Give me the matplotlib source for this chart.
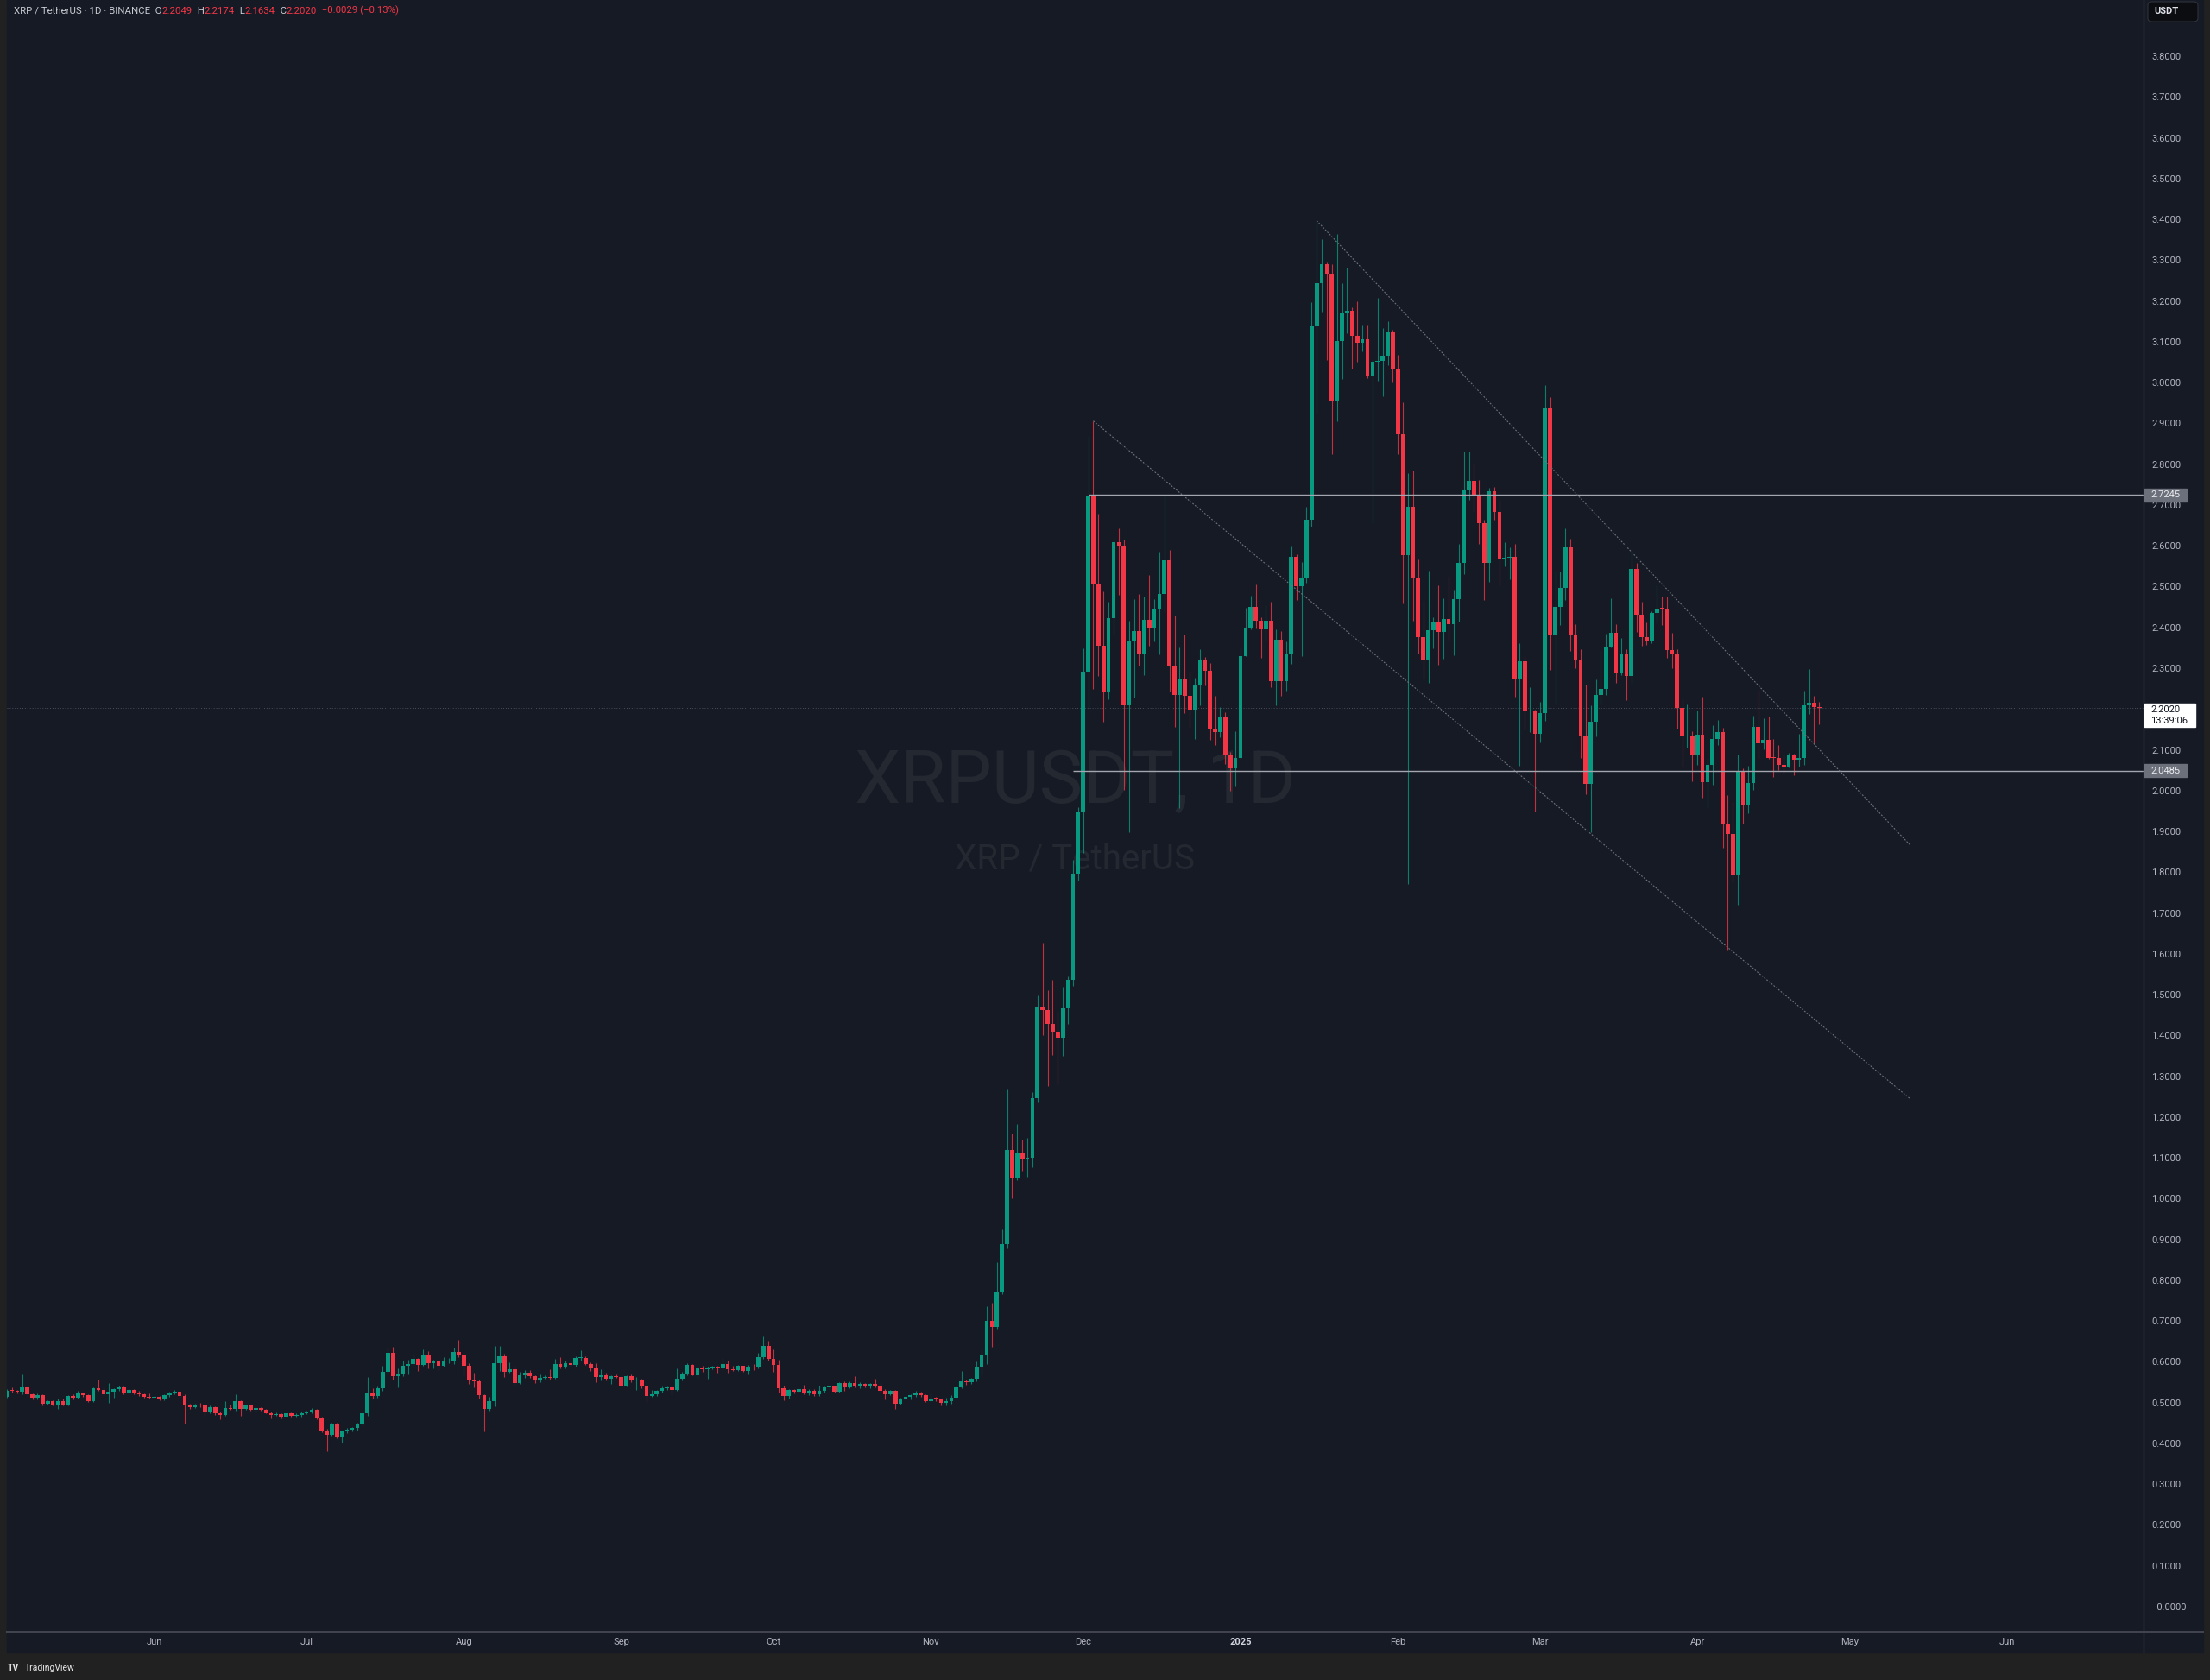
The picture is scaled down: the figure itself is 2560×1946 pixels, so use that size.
import datetime as dt
import numpy as np
import matplotlib
matplotlib.use("Agg")
import matplotlib.pyplot as plt
import matplotlib.dates as mdates
from matplotlib.patches import Rectangle, FancyBboxPatch
from matplotlib.lines import Line2D

plt.rcParams['font.family'] = ['Roboto', 'DejaVu Sans']

# XRPUSDT daily candles, 2024-05-03 .. 2025-04-25
start_day = dt.date(2024, 5, 3)
first_open = 0.515

closes = [
    # May
    0.529, 0.528, 0.526, 0.538, 0.520, 0.512, 0.518, 0.497, 0.503, 0.495, 0.503, 0.495, 0.516, 0.511, 0.523,
    0.518, 0.504, 0.535, 0.531, 0.521, 0.526, 0.533, 0.538, 0.524, 0.531, 0.524, 0.520, 0.514, 0.513,
    # Jun
    0.515, 0.508, 0.518, 0.524, 0.526, 0.517, 0.494, 0.488, 0.494, 0.493, 0.476, 0.489, 0.473, 0.470, 0.487,
    0.485, 0.503, 0.485, 0.492, 0.483, 0.486, 0.482, 0.475, 0.469, 0.472, 0.465, 0.473, 0.468, 0.470, 0.475,
    # Jul
    0.477, 0.482, 0.463, 0.430, 0.420, 0.447, 0.416, 0.429, 0.434, 0.437, 0.447, 0.473, 0.523, 0.516, 0.535,
    0.575, 0.623, 0.565, 0.570, 0.591, 0.595, 0.607, 0.593, 0.616, 0.596, 0.602, 0.591, 0.600, 0.602, 0.625, 0.618,
    # Aug
    0.591, 0.556, 0.552, 0.518, 0.484, 0.504, 0.596, 0.614, 0.576, 0.582, 0.548, 0.566, 0.573, 0.564, 0.555,
    0.561, 0.563, 0.561, 0.595, 0.589, 0.597, 0.593, 0.609, 0.610, 0.595, 0.584, 0.563, 0.567, 0.558, 0.565, 0.563,
    # Sep
    0.542, 0.565, 0.554, 0.556, 0.540, 0.516, 0.521, 0.528, 0.536, 0.538, 0.531, 0.558, 0.570, 0.593, 0.568,
    0.583, 0.582, 0.584, 0.585, 0.584, 0.594, 0.582, 0.580, 0.590, 0.578, 0.588, 0.587, 0.612, 0.639, 0.607,
    # Oct
    0.593, 0.535, 0.517, 0.531, 0.526, 0.533, 0.524, 0.529, 0.520, 0.528, 0.537, 0.539, 0.527, 0.547, 0.537,
    0.547, 0.540, 0.545, 0.540, 0.546, 0.540, 0.529, 0.521, 0.529, 0.497, 0.510, 0.515, 0.518, 0.525, 0.518, 0.504,
    # Nov
    0.510, 0.509, 0.500, 0.504, 0.513, 0.538, 0.553, 0.551, 0.558, 0.587, 0.618, 0.701, 0.686, 0.770, 0.889,
    1.119, 1.050, 1.112, 1.097, 1.101, 1.246, 1.469, 1.463, 1.428, 1.410, 1.394, 1.466, 1.537, 1.797, 1.948,
    # Dec
    2.292, 2.721, 2.507, 2.354, 2.241, 2.422, 2.608, 2.598, 2.209, 2.368, 2.390, 2.336, 2.419, 2.397, 2.443,
    2.482, 2.564, 2.307, 2.235, 2.275, 2.233, 2.199, 2.258, 2.321, 2.294, 2.152, 2.143, 2.181, 2.089, 2.054, 2.079,
    # Jan
    2.330, 2.398, 2.450, 2.416, 2.396, 2.416, 2.268, 2.369, 2.268, 2.337, 2.572, 2.501, 2.520, 2.663, 3.139,
    3.243, 3.290, 3.266, 2.955, 3.101, 3.171, 3.176, 3.115, 3.098, 3.106, 3.018, 3.052, 3.054, 3.066, 3.124, 3.033,
    # Feb
    2.874, 2.577, 2.696, 2.523, 2.377, 2.320, 2.394, 2.415, 2.389, 2.421, 2.408, 2.469, 2.558, 2.736,
    2.759, 2.724, 2.655, 2.559, 2.733, 2.683, 2.569, 2.571, 2.573, 2.275, 2.318, 2.195, 2.197, 2.140,
    # Mar
    2.189, 2.936, 2.381, 2.450, 2.496, 2.596, 2.381, 2.322, 2.134, 2.017, 2.168, 2.235, 2.249, 2.353, 2.387,
    2.289, 2.335, 2.280, 2.543, 2.431, 2.377, 2.367, 2.435, 2.447, 2.445, 2.345, 2.337, 2.203, 2.132, 2.135, 2.086,
    # Apr
    2.137, 2.021, 2.062, 2.127, 2.143, 1.918, 1.894, 1.792, 2.049, 1.963, 2.019, 2.157, 2.115,
    2.125, 2.081, 2.080, 2.064, 2.058, 2.086, 2.076, 2.081, 2.210, 2.215, 2.2049, 2.2020,
]

highs = [
    # May
    0.533, 0.538, 0.532, 0.570, 0.542, 0.522, 0.522, 0.520, 0.506, 0.506, 0.510, 0.510, 0.519, 0.520, 0.528,
    0.525, 0.521, 0.537, 0.556, 0.537, 0.547, 0.536, 0.541, 0.540, 0.535, 0.533, 0.528, 0.522, 0.522,
    # Jun
    0.519, 0.517, 0.521, 0.527, 0.531, 0.527, 0.520, 0.497, 0.497, 0.499, 0.495, 0.494, 0.491, 0.478, 0.503,
    0.496, 0.520, 0.505, 0.495, 0.495, 0.489, 0.488, 0.485, 0.478, 0.476, 0.475, 0.476, 0.476, 0.475, 0.478,
    # Jul
    0.481, 0.486, 0.485, 0.466, 0.435, 0.450, 0.450, 0.432, 0.437, 0.441, 0.451, 0.476, 0.563, 0.535, 0.540,
    0.591, 0.636, 0.636, 0.584, 0.603, 0.605, 0.619, 0.610, 0.630, 0.626, 0.605, 0.605, 0.612, 0.610, 0.635, 0.654,
    # Aug
    0.622, 0.596, 0.573, 0.556, 0.520, 0.515, 0.640, 0.640, 0.621, 0.598, 0.591, 0.575, 0.579, 0.579, 0.568,
    0.570, 0.568, 0.582, 0.607, 0.611, 0.603, 0.603, 0.614, 0.628, 0.613, 0.598, 0.597, 0.582, 0.573, 0.568, 0.570,
    # Sep
    0.566, 0.568, 0.570, 0.563, 0.558, 0.542, 0.531, 0.531, 0.540, 0.540, 0.540, 0.585, 0.575, 0.596, 0.595,
    0.589, 0.591, 0.588, 0.591, 0.591, 0.610, 0.603, 0.591, 0.593, 0.591, 0.593, 0.595, 0.623, 0.663, 0.651,
    # Oct
    0.630, 0.605, 0.542, 0.534, 0.534, 0.535, 0.544, 0.533, 0.533, 0.542, 0.540, 0.541, 0.540, 0.550, 0.552,
    0.552, 0.565, 0.550, 0.549, 0.548, 0.558, 0.547, 0.533, 0.532, 0.531, 0.513, 0.518, 0.521, 0.528, 0.527, 0.521,
    # Nov
    0.522, 0.514, 0.510, 0.511, 0.518, 0.543, 0.577, 0.556, 0.560, 0.601, 0.630, 0.736, 0.744, 0.844, 0.925,
    1.268, 1.159, 1.183, 1.144, 1.149, 1.262, 1.499, 1.627, 1.511, 1.537, 1.457, 1.519, 1.545, 1.830, 1.959,
    # Dec
    2.349, 2.870, 2.906, 2.678, 2.489, 2.462, 2.617, 2.643, 2.615, 2.416, 2.469, 2.481, 2.475, 2.528, 2.469,
    2.585, 2.724, 2.589, 2.429, 2.351, 2.383, 2.292, 2.277, 2.346, 2.328, 2.313, 2.233, 2.205, 2.193, 2.095, 2.146,
    # Jan
    2.351, 2.449, 2.477, 2.505, 2.425, 2.455, 2.464, 2.396, 2.392, 2.366, 2.599, 2.580, 2.561, 2.696, 3.198,
    3.398, 3.351, 3.295, 3.290, 3.365, 3.243, 3.282, 3.184, 3.200, 3.140, 3.140, 3.058, 3.208, 3.133, 3.150, 3.130,
    # Feb
    3.068, 2.952, 2.779, 2.784, 2.566, 2.466, 2.539, 2.425, 2.504, 2.471, 2.525, 2.493, 2.604, 2.831,
    2.831, 2.802, 2.762, 2.664, 2.743, 2.745, 2.711, 2.608, 2.597, 2.605, 2.362, 2.328, 2.254, 2.199,
    # Mar
    2.217, 2.995, 2.964, 2.537, 2.537, 2.643, 2.618, 2.407, 2.346, 2.260, 2.209, 2.273, 2.345, 2.385, 2.472,
    2.407, 2.375, 2.347, 2.589, 2.559, 2.464, 2.413, 2.440, 2.503, 2.476, 2.476, 2.386, 2.346, 2.224, 2.211, 2.145,
    # Apr
    2.197, 2.231, 2.079, 2.161, 2.173, 2.155, 1.990, 1.972, 2.088, 2.054, 2.061, 2.183, 2.244,
    2.178, 2.181, 2.126, 2.111, 2.088, 2.093, 2.091, 2.139, 2.246, 2.298, 2.232, 2.2174,
]

lows = [
    # May
    0.512, 0.524, 0.522, 0.521, 0.516, 0.508, 0.508, 0.494, 0.495, 0.492, 0.484, 0.492, 0.493, 0.508, 0.509,
    0.515, 0.502, 0.502, 0.528, 0.518, 0.499, 0.513, 0.530, 0.521, 0.521, 0.520, 0.517, 0.511, 0.510,
    # Jun
    0.511, 0.505, 0.506, 0.515, 0.521, 0.514, 0.448, 0.485, 0.486, 0.489, 0.468, 0.473, 0.470, 0.459, 0.468,
    0.482, 0.481, 0.468, 0.482, 0.480, 0.476, 0.480, 0.473, 0.461, 0.467, 0.462, 0.463, 0.465, 0.466, 0.466,
    # Jul
    0.472, 0.474, 0.460, 0.427, 0.380, 0.418, 0.412, 0.401, 0.425, 0.429, 0.432, 0.442, 0.468, 0.510, 0.513,
    0.530, 0.570, 0.556, 0.538, 0.565, 0.570, 0.590, 0.577, 0.590, 0.583, 0.584, 0.580, 0.588, 0.596, 0.594, 0.612,
    # Aug
    0.566, 0.545, 0.538, 0.510, 0.429, 0.480, 0.490, 0.577, 0.563, 0.574, 0.542, 0.545, 0.560, 0.560, 0.548,
    0.551, 0.558, 0.557, 0.558, 0.585, 0.583, 0.589, 0.588, 0.603, 0.592, 0.577, 0.550, 0.554, 0.555, 0.545, 0.560,
    # Sep
    0.539, 0.540, 0.551, 0.531, 0.536, 0.501, 0.514, 0.517, 0.525, 0.531, 0.520, 0.529, 0.554, 0.566, 0.566,
    0.558, 0.575, 0.559, 0.581, 0.574, 0.580, 0.573, 0.577, 0.578, 0.576, 0.570, 0.580, 0.583, 0.608, 0.603,
    # Oct
    0.575, 0.524, 0.505, 0.509, 0.523, 0.524, 0.521, 0.518, 0.517, 0.517, 0.525, 0.531, 0.524, 0.525, 0.529,
    0.535, 0.537, 0.535, 0.538, 0.535, 0.537, 0.527, 0.508, 0.518, 0.484, 0.495, 0.507, 0.508, 0.514, 0.515, 0.501,
    # Nov
    0.501, 0.503, 0.494, 0.492, 0.498, 0.508, 0.535, 0.543, 0.546, 0.553, 0.568, 0.595, 0.636, 0.680, 0.765,
    0.878, 1.001, 1.045, 1.069, 1.053, 1.076, 1.235, 1.400, 1.276, 1.353, 1.281, 1.349, 1.428, 1.521, 1.780,
    # Dec
    1.847, 2.201, 2.250, 2.280, 2.168, 2.224, 2.382, 2.480, 2.001, 1.899, 2.228, 2.307, 2.284, 2.354, 2.366,
    2.333, 2.438, 2.243, 2.156, 1.957, 2.190, 2.157, 2.127, 2.209, 2.258, 2.125, 2.112, 2.131, 2.065, 2.000, 2.010,
    # Jan
    2.076, 2.329, 2.396, 2.398, 2.325, 2.366, 2.254, 2.210, 2.233, 2.245, 2.310, 2.467, 2.329, 2.510, 2.647,
    2.923, 3.174, 3.056, 2.825, 2.906, 3.009, 3.120, 3.034, 3.052, 3.076, 3.011, 2.655, 3.005, 2.966, 3.043, 3.001,
    # Feb
    2.825, 2.458, 1.770, 2.417, 2.337, 2.275, 2.264, 2.349, 2.309, 2.324, 2.370, 2.331, 2.415, 2.530,
    2.712, 2.685, 2.605, 2.468, 2.511, 2.664, 2.504, 2.549, 2.519, 2.231, 2.061, 2.149, 2.144, 1.948,
    # Mar
    2.118, 2.170, 2.296, 2.211, 2.405, 2.468, 2.342, 2.300, 2.081, 1.991, 1.899, 2.132, 2.211, 2.235, 2.351,
    2.265, 2.284, 2.222, 2.263, 2.389, 2.355, 2.357, 2.362, 2.411, 2.405, 2.326, 2.300, 2.152, 2.058, 2.105, 2.023,
    # Apr
    2.062, 1.983, 1.958, 2.014, 2.111, 1.860, 1.610, 1.776, 1.720, 1.920, 1.945, 2.002, 2.079,
    2.102, 2.077, 2.033, 2.051, 2.042, 2.056, 2.037, 2.058, 2.062, 2.187, 2.116, 2.1634,
]

# drawings on the chart
level_prices = [2.7245, 2.0485]
level_starts = [dt.datetime(2024, 12, 2), dt.datetime(2024, 11, 29)]
upper_trend = [(dt.datetime(2025, 1, 16), 3.397), (dt.datetime(2025, 5, 12, 19), 1.868)]
lower_trend = [(dt.datetime(2024, 12, 3), 2.906), (dt.datetime(2025, 5, 12, 19), 1.246)]

month_starts = [dt.date(2024, m, 1) for m in range(6, 13)] + [dt.date(2025, m, 1) for m in range(1, 7)]
month_labels = ['Jun', 'Jul', 'Aug', 'Sep', 'Oct', 'Nov', 'Dec', '2025', 'Feb', 'Mar', 'Apr', 'May', 'Jun']
price_ticks = np.round(np.arange(0, 3.85, 0.1), 1)

BG = '#161a25'
FRAME = '#212121'
SEP = '#363a45'
UP = '#089981'
DOWN = '#f23645'
AXTXT = '#b2b5be'
WATERMARK = '#242831'

W, H = 2560, 1946
fig = plt.figure(figsize=(W / 100, H / 100), dpi=100, facecolor=FRAME)


def fx(px):
    return px / W


def fy(py):
    return 1 - py / H


def frect(x0, y0, x1, y1, **kw):
    r = Rectangle((fx(x0), fy(y1)), fx(x1) - fx(x0), fy(y0) - fy(y1), transform=fig.transFigure, **kw)
    fig.patches.append(r)
    return r


# chart panel (plot + price column + time band)
frect(8, 0, 2552, 1914, color=BG, zorder=-1)

ax = fig.add_axes([fx(8), fy(1890), fx(2483) - fx(8), fy(0) - fy(1890)])
ax.set_facecolor(BG)
for s in ax.spines.values():
    s.set_visible(False)

jan1 = mdates.date2num(dt.date(2025, 1, 1))
ax.set_xlim(jan1 - 243.03, jan1 + 177.89)
ax.set_ylim(-0.0614, 3.9378)

# watermark
ax.text(0.5, 1 - 906 / 1890, 'XRPUSDT, 1D', transform=ax.transAxes, ha='center', va='center',
        fontsize=61, color=WATERMARK, zorder=0.5)
ax.text(0.5, 1 - 995 / 1890, 'XRP / TetherUS', transform=ax.transAxes, ha='center', va='center',
        fontsize=29, color=WATERMARK, zorder=0.5)

# candles
x = mdates.date2num([start_day + dt.timedelta(days=i) for i in range(len(closes))])
c = np.array(closes)
o = np.array([first_open] + closes[:-1])
hi = np.maximum(np.array(highs), np.maximum(o, c))
lo = np.minimum(np.array(lows), np.minimum(o, c))
up = c >= o
cols = np.where(up, UP, DOWN)
ax.vlines(x, lo, hi, colors=cols, linewidth=0.8, alpha=0.8, zorder=3)
ax.bar(x, np.maximum(np.abs(c - o), 0.0022), bottom=np.minimum(o, c), width=0.8,
       color=cols, linewidth=0, zorder=4)

# last price dotted line
ax.axhline(closes[-1], color='#4a4e5a', lw=0.7, ls=(0, (1, 2)), zorder=2)

# horizontal levels
x_right = ax.get_xlim()[1]
for lvl, st in zip(level_prices, level_starts):
    ax.plot([mdates.date2num(st), x_right], [lvl, lvl], color='#a3a6af', lw=1.0, zorder=5,
            solid_capstyle='butt')

# channel lines
for line in (upper_trend, lower_trend):
    ax.plot([mdates.date2num(p[0]) for p in line], [p[1] for p in line], color='#6f737e',
            lw=0.8, ls=(0, (1.6, 1.6)), zorder=5)

# axes ticks
ax.yaxis.tick_right()
ax.set_yticks(price_ticks)
ax.set_yticklabels(['\u22120.0000' if v == 0 else f'{v:.4f}' for v in price_ticks])
ax.tick_params(axis='y', length=0, pad=6.5, labelsize=8, labelcolor=AXTXT)
ax.set_xticks(mdates.date2num(month_starts))
ax.set_xticklabels(month_labels)
ax.tick_params(axis='x', length=0, pad=5, labelsize=8, labelcolor=AXTXT)
lab25 = ax.get_xticklabels()[7]
lab25.set_color('#d1d4dc')
lab25.set_fontweight('bold')

# separators
fig.lines.append(Line2D([fx(2483), fx(2483)], [fy(0), fy(1914)], transform=fig.transFigure,
                        color=SEP, lw=1.0, zorder=2))
fig.lines.append(Line2D([fx(8), fx(2552)], [fy(1890), fy(1890)], transform=fig.transFigure,
                        color='#434651', lw=1.4, zorder=2))


def price_y(p):
    # screen row (from top) of a price, through the axes transform
    return H - ax.transData.transform((x_right, p))[1]


# price tags on the right scale
for lvl in level_prices:
    py = price_y(lvl)
    frect(2484, py - 7.5, 2533, py + 7.5, color='#6c707b', zorder=3)
    fig.text(fx(2508.5), fy(py), f'{lvl:.4f}', ha='center', va='center', fontsize=8,
             color='#e9eaee', zorder=4)

py = price_y(closes[-1])
frect(2484, py - 5.5, 2543, py + 21.5, color='#ffffff', zorder=3)
fig.text(fx(2491.5), fy(py + 2), f'{closes[-1]:.4f}', ha='left', va='center', fontsize=8,
         color='#131722', zorder=4)
fig.text(fx(2491.5), fy(py + 15), '13:39:06', ha='left', va='center', fontsize=8,
         color='#131722', zorder=4)

# currency box
box = FancyBboxPatch((fx(2488), fy(25)), fx(2546) - fx(2488), fy(2) - fy(25),
                     boxstyle='round,pad=0,rounding_size=0.002', transform=fig.transFigure,
                     fc='#0c0d11', ec='#2f323c', lw=0.8, zorder=3)
fig.patches.append(box)
fig.text(fx(2495), fy(13.5), 'USDT', ha='left', va='center', fontsize=8, color='#e0e3eb',
         fontweight='bold', zorder=4)

# legend line at the top
grey = '#c9cbd2'
header = [('XRP / TetherUS \u00b7 1D \u00b7 BINANCE', grey), ('  O', grey), ('2.2049', DOWN),
          ('  H', grey), ('2.2174', DOWN), ('  L', grey), ('2.1634', DOWN), ('  C', grey),
          ('2.2020', DOWN), ('  \u22120.0029 (\u22120.13%)', DOWN)]
renderer = fig.canvas.get_renderer()
xcur = 16
for txt, col in header:
    t = fig.text(fx(xcur), fy(12.5), txt, ha='left', va='center', fontsize=8.2, color=col, zorder=4)
    xcur += t.get_window_extent(renderer).width

# footer
fig.text(fx(9), fy(1932), 'TV', ha='left', va='center', fontsize=7.5, color='#e6e6e6',
         fontweight='bold')
fig.text(fx(29), fy(1932), 'TradingView', ha='left', va='center', fontsize=7.5, color='#e6e6e6')

fig.savefig('out.png', dpi=100, facecolor=FRAME)
